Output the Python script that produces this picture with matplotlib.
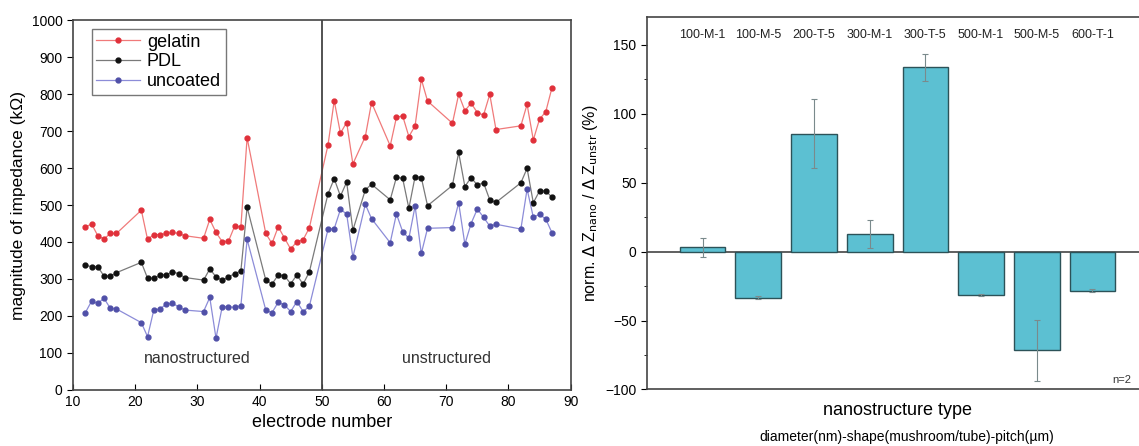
import numpy as np
import matplotlib
matplotlib.use("Agg")
import matplotlib.pyplot as plt
from matplotlib.ticker import MultipleLocator

plt.rcParams["font.family"] = ["Liberation Sans", "DejaVu Sans"]

# left panel: impedance per electrode
electrode = [12, 13, 14, 15, 16, 17, 21, 22, 23, 24, 25, 26, 27, 28, 31, 32, 33, 34, 35, 36, 37, 38,
             41, 42, 43, 44, 45, 46, 47, 48,
             51, 52, 53, 54, 55, 57, 58, 61, 62, 63, 64, 65, 66, 67, 71, 72, 73, 74, 75, 76, 77, 78,
             82, 83, 84, 85, 86, 87]
gelatin = [440, 449, 417, 408, 423, 423, 486, 407, 420, 420, 423, 426, 423, 417, 410, 461, 426, 401, 402, 443, 441, 682,
           423, 396, 441, 411, 381, 401, 406, 438,
           662, 782, 694, 723, 611, 685, 777, 660, 737, 741, 685, 714, 840, 781, 721, 799, 755, 775, 750, 743, 799, 704,
           714, 772, 676, 732, 752, 817]
pdl = [338, 333, 333, 308, 308, 317, 345, 302, 302, 311, 311, 320, 314, 304, 297, 327, 306, 296, 306, 314, 322, 494,
       297, 286, 311, 309, 287, 311, 286, 319,
       530, 571, 524, 562, 432, 541, 556, 514, 575, 572, 491, 577, 574, 498, 553, 642, 550, 574, 554, 560, 514, 507,
       560, 599, 506, 538, 538, 521]
uncoated = [209, 240, 234, 248, 221, 219, 182, 144, 216, 219, 232, 234, 225, 216, 212, 250, 140, 225, 225, 223, 228, 407,
            216, 209, 237, 230, 212, 239, 212, 226,
            434, 436, 488, 476, 359, 502, 463, 398, 476, 428, 410, 497, 369, 437, 439, 506, 394, 450, 489, 467, 443, 448,
            435, 543, 467, 475, 462, 425]

# right panel: normalised impedance change per nanostructure type
types = ["100-M-1", "100-M-5", "200-T-5", "300-M-1", "300-T-5", "500-M-1", "500-M-5", "600-T-1"]
norm_dz = [3, -33.5, 85.5, 12.5, 133.5, -31.5, -71.5, -28.5]
norm_err = [7, 1, 25, 10, 10, 1, 22, 1]

fig = plt.figure(figsize=(11.39, 4.46), dpi=100)

# ---- left panel
ax1 = fig.add_axes([0.064, 0.1256, 0.437, 0.8295])
ax1.plot(electrode, gelatin, "-o", color="#f07a7a", lw=0.9, ms=3.5,
         mfc="#e0303a", mec="#e0303a", label="gelatin")
ax1.plot(electrode, pdl, "-o", color="#7a7a7a", lw=0.9, ms=3.5,
         mfc="#111111", mec="#111111", label="PDL")
ax1.plot(electrode, uncoated, "-o", color="#8c8cd8", lw=0.9, ms=3.5,
         mfc="#5050a8", mec="#5050a8", label="uncoated")
ax1.axvline(50, color="#444444", lw=1.3)
ax1.set_xlim(10, 90)
ax1.set_ylim(0, 1000)
ax1.xaxis.set_major_locator(MultipleLocator(10))
ax1.yaxis.set_major_locator(MultipleLocator(100))
ax1.tick_params(axis="x", direction="in", labelsize=10, length=4)
ax1.tick_params(axis="y", direction="out", labelsize=10, length=4)
for s in ax1.spines.values():
    s.set_color("#444444")
    s.set_linewidth(1.2)
ax1.set_xlabel("electrode number", fontsize=13)
ax1.set_ylabel("magnitude of impedance (k\u03a9)", fontsize=12.5)
ax1.text(30, 85, "nanostructured", ha="center", va="center", fontsize=11.5, color="#333333")
ax1.text(70, 85, "unstructured", ha="center", va="center", fontsize=11.5, color="#333333")
leg = ax1.legend(loc="upper left", bbox_to_anchor=(0.038, 0.975), borderaxespad=0,
                 fontsize=13, frameon=True, fancybox=False, edgecolor="#555555",
                 handlelength=2.4, borderpad=0.25, labelspacing=0.15, handletextpad=0.4)
leg.get_frame().set_linewidth(1.0)

# ---- right panel
ax2 = fig.add_axes([0.568, 0.1267, 0.440, 0.8353])
pos = np.arange(1, len(types) + 1)
ax2.bar(pos, norm_dz, width=0.82, color="#5cc0d2", edgecolor="#2c5258", lw=1.0, zorder=2)
ax2.errorbar(pos, norm_dz, yerr=norm_err, fmt="none", ecolor="#7a8a8c",
             elinewidth=0.8, capsize=2.5, capthick=0.8, zorder=3)
ax2.axhline(0, color="#444444", lw=1.2, zorder=1)
ax2.set_xlim(0, 9)
ax2.set_ylim(-100, 170)
ax2.yaxis.set_major_locator(MultipleLocator(50))
ax2.yaxis.set_minor_locator(MultipleLocator(25))
ax2.set_xticks([])
ax2.tick_params(axis="y", which="both", direction="out", labelsize=10)
ax2.tick_params(axis="y", which="major", length=4)
ax2.tick_params(axis="y", which="minor", length=2.5)
for s in ax2.spines.values():
    s.set_color("#444444")
    s.set_linewidth(1.2)
for p, t in zip(pos, types):
    ax2.text(p, 157, t, ha="center", va="center", fontsize=9, color="#222222")
ax2.text(8.35, -93, "n=2", ha="left", va="center", fontsize=8, color="#333333")
ax2.set_ylabel(r"norm. $\Delta$ Z$_{\mathrm{nano}}$ / $\Delta$ Z$_{\mathrm{unstr}}$ (%)", fontsize=11.5)
ax2.set_xlabel("nanostructure type", fontsize=13, labelpad=9)
fig.text(0.796, 0.02, "diameter(nm)-shape(mushroom/tube)-pitch(\u00b5m)",
         ha="center", va="center", fontsize=10)

fig.savefig("out.png", dpi=100)
